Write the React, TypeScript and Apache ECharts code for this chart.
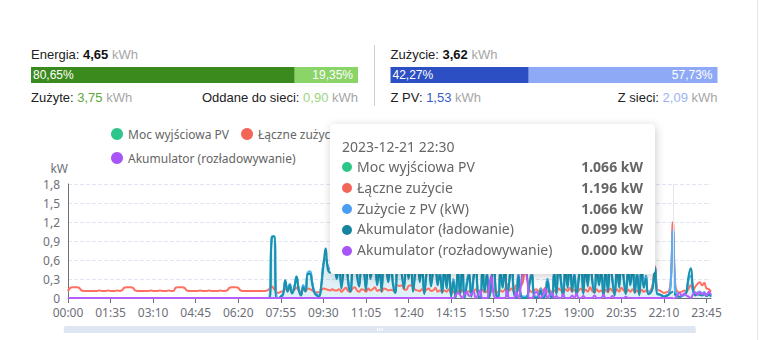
import React, { useEffect, useRef } from 'react';
import * as echarts from 'echarts';

const FONT = "'Noto Sans', sans-serif";
const HEAD_FONT = "'Liberation Sans', Arial, sans-serif";

const tooltipDate = '2023-12-21';
const tooltipIndex = 270;

// 5-minute time categories 00:00 .. 23:55
const times: string[] = [];
for (let m = 0; m < 24 * 60; m += 5) {
  times.push(`${String(Math.floor(m / 60)).padStart(2, '0')}:${String(m % 60).padStart(2, '0')}`);
}

const seriesNames = [
  'Moc wyjściowa PV',
  'Łączne zużycie',
  'Zużycie z PV (kW)',
  'Akumulator (ładowanie)',
  'Akumulator (rozładowywanie)',
];
const seriesColors = ['#2ec58a', '#f2665a', '#4a9ef0', '#17849f', '#a855f7'];

// header summary values
const energyTotal = 4.65;
const energyUsed = 3.75;
const energyExported = 0.9;
const energyShares = [80.65, 19.35];
const usageTotal = 3.62;
const usageFromPv = 1.53;
const usageFromGrid = 2.09;
const usageShares = [42.27, 57.73];

const Z12 = [0, 0, 0, 0, 0, 0, 0, 0, 0, 0, 0, 0];

const pvOutput = [
  ...Z12, ...Z12, ...Z12, ...Z12, ...Z12, ...Z12, ...Z12,
  0, 0, 0, 0, 0, 0, 0.02, 0.97, 0.98, 0.02, 0, 0.03,
  0.08, 0.26, 0.12, 0.22, 0.1, 0.18, 0.34, 0.15, 0.06, 0.2, 0.12, 0.4,
  0.42, 0.25, 0.1, 0.06, 0.04, 0.2, 0.55, 0.62, 0.5, 0.45, 0.7, 0.55,
  0.35, 0.62, 0.2, 0.48, 0.85, 0.3, 0.15, 0.55, 0.9, 0.4, 0.22, 0.7,
  0.5, 0.18, 0.78, 0.35, 0.6, 0.95, 0.25, 0.45, 0.15, 0.7, 0.52, 0.3,
  0.65, 0.28, 0.12, 0.58, 0.82, 0.4, 0.2, 0.72, 0.35, 0.6, 0.15, 0.45,
  0.75, 0.3, 0.55, 0.1, 0.42, 0.68, 0.22, 0.5, 0.85, 0.25, 0.4, 0.12,
  0.48, 0.2, 0.6, 0.05, 0.3, 0.02, 0.45, 0.1, 0.55, 0.03, 0.25, 0.4,
  0.05, 0.35, 0.62, 0.08, 0.02, 0.5, 0.15, 0.4, 0.03, 0.28, 0.7, 0.1,
  0.02, 0.45, 0.2, 0.55, 0.05, 0.3, 0.6, 0.12, 0.02, 0.38, 0.08, 0.02,
  0.02, 0.03, 0.25, 0.4, 0.05, 0.02, 0.03, 0.15, 0.02, 0.05, 0.3, 0.1,
  0.02, 0.42, 0.1, 0.6, 0.3, 0.05, 0.5, 0.2, 0.72, 0.15, 0.4, 0.08,
  0.35, 0.65, 0.1, 0.5, 0.22, 0.8, 0.3, 0.12, 0.58, 0.25, 0.45, 0.05,
  0.48, 0.15, 0.62, 0.3, 0.08, 0.55, 0.2, 0.7, 0.35, 0.1, 0.45, 0.25,
  0.6, 0.12, 0.4, 0.08, 0.52, 0.2, 0.35, 0.1, 0.1, 0.2, 0.48, 0.08,
  0.05, 0.04, 0.03, 0.04, 0.05, 0.22, 1.066, 0.16, 0.03, 0.02, 0.03, 0.05,
  0.1, 0.3, 0.35, 0.12, 0.05, 0.08, 0.1, 0.06, 0.09, 0.05, 0.07, 0.04,
];

const totalUse = [
  0.11, 0.16, 0.17, 0.17, 0.17, 0.16, 0.12, 0.11, 0.11, 0.11, 0.11, 0.11,
  0.11, 0.11, 0.12, 0.11, 0.11, 0.11, 0.12, 0.11, 0.11, 0.11, 0.12, 0.11,
  0.12, 0.16, 0.17, 0.17, 0.17, 0.16, 0.12, 0.11, 0.11, 0.11, 0.11, 0.11,
  0.11, 0.12, 0.11, 0.11, 0.11, 0.12, 0.11, 0.11, 0.11, 0.12, 0.11, 0.11,
  0.16, 0.17, 0.17, 0.17, 0.16, 0.12, 0.11, 0.11, 0.11, 0.11, 0.11, 0.12,
  0.11, 0.11, 0.11, 0.12, 0.11, 0.11, 0.11, 0.11, 0.12, 0.11, 0.11, 0.12,
  0.16, 0.17, 0.17, 0.17, 0.16, 0.12, 0.11, 0.11, 0.11, 0.11, 0.11, 0.11,
  0.11, 0.11, 0.11, 0.11, 0.11, 0.12, 0.15, 0.18, 0.14, 0.1, 0.08, 0.1,
  0.11, 0.14, 0.12, 0.15, 0.1, 0.13, 0.16, 0.12, 0.1, 0.13, 0.11, 0.15,
  0.14, 0.12, 0.1, 0.09, 0.09, 0.12, 0.15, 0.14, 0.13, 0.12, 0.14, 0.12,
  0.12, 0.14, 0.1, 0.13, 0.16, 0.11, 0.1, 0.15, 0.17, 0.12, 0.1, 0.14,
  0.13, 0.1, 0.15, 0.12, 0.14, 0.17, 0.11, 0.13, 0.1, 0.15, 0.14, 0.12,
  0.13, 0.12, 0.18, 0.2, 0.19, 0.2, 0.14, 0.13, 0.19, 0.2, 0.18, 0.13,
  0.12, 0.11, 0.14, 0.1, 0.13, 0.15, 0.11, 0.12, 0.16, 0.1, 0.12, 0.1,
  0.12, 0.1, 0.14, 0.08, 0.1, 0.07, 0.12, 0.08, 0.13, 0.07, 0.09, 0.11,
  0.08, 0.1, 0.14, 0.08, 0.12, 0.13, 0.09, 0.11, 0.18, 0.1, 0.15, 0.08,
  0.1, 0.12, 0.1, 0.14, 0.22, 0.12, 0.15, 0.1, 0.2, 0.12, 0.18, 0.25,
  0.45, 0.3, 0.12, 0.1, 0.12, 0.14, 0.1, 0.15, 0.12, 0.16, 0.1, 0.12,
  0.1, 0.12, 0.09, 0.15, 0.12, 0.1, 0.14, 0.11, 0.16, 0.1, 0.13, 0.09,
  0.12, 0.15, 0.09, 0.13, 0.1, 0.17, 0.11, 0.09, 0.14, 0.1, 0.12, 0.08,
  0.13, 0.09, 0.15, 0.11, 0.08, 0.14, 0.1, 0.16, 0.12, 0.09, 0.13, 0.1,
  0.14, 0.09, 0.12, 0.08, 0.13, 0.1, 0.12, 0.08, 0.12, 0.22, 0.5, 0.14,
  0.12, 0.1, 0.08, 0.09, 0.1, 0.26, 1.196, 0.24, 0.1, 0.09, 0.1, 0.12,
  0.1, 0.15, 0.2, 0.12, 0.18, 0.22, 0.25, 0.2, 0.24, 0.15, 0.14, 0.1,
];

const pvUse = [
  ...Z12, ...Z12, ...Z12, ...Z12, ...Z12, ...Z12, ...Z12,
  0, 0, 0, 0, 0, 0, 0.02, 0.97, 0.98, 0.02, 0, 0.03,
  0.08, 0.26, 0.12, 0.22, 0.1, 0.18, 0.34, 0.15, 0.06, 0.2, 0.12, 0.4,
  0.42, 0.25, 0.1, 0.06, 0.04, 0.2, 0.55, 0.62, 0.5, 0.45, 0.7, 0.55,
  0.35, 0.62, 0.2, 0.48, 0.85, 0.3, 0.15, 0.55, 0.9, 0.4, 0.22, 0.7,
  0.5, 0.18, 0.78, 0.35, 0.6, 0.95, 0.25, 0.45, 0.15, 0.7, 0.52, 0.3,
  0.65, 0.28, 0.12, 0.58, 0.82, 0.4, 0.2, 0.72, 0.35, 0.6, 0.15, 0.45,
  0.75, 0.3, 0.55, 0.1, 0.42, 0.68, 0.22, 0.5, 0.85, 0.25, 0.4, 0.12,
  0.48, 0.2, 0.6, 0.05, 0.3, 0.02, 0.45, 0.1, 0.55, 0.03, 0.25, 0.4,
  0.05, 0.35, 0.62, 0.08, 0.02, 0.5, 0.15, 0.4, 0.03, 0.28, 0.7, 0.1,
  0.02, 0.45, 0.2, 0.55, 0.05, 0.3, 0.6, 0.12, 0.02, 0.38, 0.08, 0.02,
  0.02, 0.03, 0.25, 0.4, 0.05, 0.02, 0.03, 0.15, 0.02, 0.05, 0.3, 0.1,
  0.02, 0.42, 0.1, 0.6, 0.3, 0.05, 0.5, 0.2, 0.72, 0.15, 0.4, 0.08,
  0.35, 0.65, 0.1, 0.5, 0.22, 0.8, 0.3, 0.12, 0.58, 0.25, 0.45, 0.05,
  0.48, 0.15, 0.62, 0.3, 0.08, 0.55, 0.2, 0.7, 0.35, 0.1, 0.45, 0.25,
  0.6, 0.12, 0.4, 0.08, 0.52, 0.2, 0.35, 0.1, 0.1, 0.2, 0.48, 0.08,
  0.05, 0.04, 0.03, 0.04, 0.05, 0.22, 1.066, 0.16, 0.03, 0.02, 0.03, 0.05,
  0.1, 0.3, 0.35, 0.12, 0.05, 0.08, 0.1, 0.06, 0.09, 0.05, 0.07, 0.04,
];

const batteryCharge = [
  ...Z12, ...Z12, ...Z12, ...Z12, ...Z12, ...Z12, ...Z12,
  0, 0, 0, 0, 0, 0, 0, 0.96, 0.97, 0, 0, 0.02,
  0.05, 0.28, 0.1, 0.2, 0.07, 0.15, 0.33, 0.12, 0.04, 0.17, 0.1, 0.38,
  0.38, 0.22, 0.08, 0.04, 0.02, 0.18, 0.5, 0.78, 0.45, 0.4, 0.66, 0.5,
  0.3, 0.58, 0.15, 0.45, 0.82, 0.25, 0.1, 0.5, 0.88, 0.35, 0.18, 0.66,
  0.46, 0.12, 0.74, 0.3, 0.56, 0.92, 0.2, 0.42, 0.1, 0.68, 0.48, 0.25,
  0.6, 0.22, 0.08, 0.55, 0.78, 0.36, 0.15, 0.7, 0.3, 0.56, 0.1, 0.4,
  0.72, 0.25, 0.5, 0.06, 0.38, 0.65, 0.18, 0.46, 0.8, 0.2, 0.36, 0.08,
  0.45, 0.15, 0.56, 0.02, 0.26, 0, 0.42, 0.06, 0.5, 0, 0.2, 0.36,
  0.02, 0.3, 0.58, 0.04, 0, 0.45, 0.1, 0.36, 0, 0.24, 0.66, 0.06,
  0, 0.4, 0.16, 0.5, 0.02, 0.26, 0.56, 0.08, 0, 0.34, 0.05, 0,
  0, 0.02, 0.22, 0.36, 0.03, 0, 0.02, 0.12, 0, 0.03, 0.26, 0.06,
  0, 0.38, 0.06, 0.56, 0.26, 0.02, 0.46, 0.16, 0.68, 0.1, 0.36, 0.04,
  0.3, 0.6, 0.06, 0.46, 0.18, 0.76, 0.26, 0.08, 0.54, 0.2, 0.4, 0.02,
  0.44, 0.1, 0.58, 0.26, 0.04, 0.5, 0.16, 0.66, 0.3, 0.06, 0.4, 0.2,
  0.56, 0.08, 0.36, 0.04, 0.48, 0.16, 0.3, 0.06, 0.08, 0.16, 0.47, 0.06,
  0.06, 0.04, 0.02, 0.03, 0.05, 0.08, 0.099, 0.05, 0.03, 0.02, 0.04, 0.06,
  0.08, 0.35, 0.47, 0.15, 0.04, 0.06, 0.05, 0.04, 0.06, 0.03, 0.05, 0.02,
];

const batteryDischarge = [
  ...Z12, ...Z12, ...Z12, ...Z12, ...Z12, ...Z12, ...Z12,
  ...Z12, ...Z12, ...Z12, ...Z12, ...Z12, ...Z12, ...Z12,
  0, 0, 0, 0, 0, 0.04, 0.08, 0.05, 0, 0.06, 0.1, 0.03,
  0.06, 0.1, 0, 0.05, 0.12, 0, 0, 0, 0.2, 0.35, 0.05, 0,
  0, 0, 0, 0, 0.12, 0, 0, 0, 0.1, 0, 0.15, 0.45,
  0.5, 0.3, 0, 0, 0.05, 0.1, 0.04, 0, 0.06, 0.15, 0, 0.05,
  0.08, 0, 0.03, 0, 0, 0.06, 0, 0, 0, 0.04, 0, 0.07,
  0, 0, 0.03, 0, 0, 0, 0, 0.04, 0, 0, 0, 0.05,
  0, 0, 0, 0.03, 0, 0, 0, 0, 0, 0.02, 0, 0,
  0, 0, 0, 0, 0, 0, 0, 0, 0, 0, 0, 0,
  0, 0, 0, 0, 0, 0, 0, 0, 0.05, 0.08, 0.03, 0.07,
  0.04, 0.02, 0, 0.06, 0.09, 0.05, 0.1, 0.06, 0.08, 0.04, 0.1, 0.05,
];

const seriesData = [pvOutput, totalUse, pvUse, batteryCharge, batteryDischarge];

const fmt2 = (v: number) => v.toFixed(2).replace('.', ',');
const pct = (v: number) => fmt2(v) + '%';

const headRich = {
  l: { fill: '#222', fontSize: 13, fontFamily: HEAD_FONT },
  v: { fill: '#111', fontSize: 13, fontWeight: 'bold', fontFamily: HEAD_FONT },
  u: { fill: '#a6a6a6', fontSize: 13, fontFamily: HEAD_FONT },
  g: { fill: '#5ea63a', fontSize: 13, fontFamily: HEAD_FONT },
  lg: { fill: '#9ed584', fontSize: 13, fontFamily: HEAD_FONT },
  b: { fill: '#3b5ccc', fontSize: 13, fontFamily: HEAD_FONT },
  lb: { fill: '#9cb3f2', fontSize: 13, fontFamily: HEAD_FONT },
};

const headText = (x: number, y: number, text: string, align = 'left') => ({
  type: 'text',
  x,
  y,
  silent: true,
  style: {
    text,
    rich: headRich,
    align,
    verticalAlign: 'middle',
    fontSize: 13,
    fontFamily: HEAD_FONT,
    fill: '#222',
  },
});

const barLabel = (position: string, distance: number) => ({
  show: true,
  position,
  distance,
  color: '#fff',
  fontSize: 12,
  fontFamily: HEAD_FONT,
  formatter: (p: any) => pct(p.value),
});

function buildOption() {
  const lineSeries = seriesNames.map((name, i) => ({
    name,
    type: 'line',
    xAxisIndex: 0,
    yAxisIndex: 0,
    data: seriesData[i],
    smooth: true,
    showSymbol: false,
    symbol: 'none',
    color: seriesColors[i],
    lineStyle: { width: 2, color: seriesColors[i] },
    areaStyle: i === 3 ? { color: seriesColors[i], opacity: 0.1 } : i === 2 ? { color: seriesColors[i], opacity: 0.05 } : undefined,
  }));

  const barSeries = [
    {
      name: 'energia-zuzyte', type: 'bar', xAxisIndex: 1, yAxisIndex: 1, stack: 'e',
      data: [energyShares[0]], barWidth: 16, silent: true,
      itemStyle: { color: '#3b8a1e' }, label: barLabel('insideLeft', 2),
    },
    {
      name: 'energia-oddane', type: 'bar', xAxisIndex: 1, yAxisIndex: 1, stack: 'e',
      data: [energyShares[1]], barWidth: 16, silent: true,
      itemStyle: { color: '#8bd468' }, label: barLabel('insideRight', 5),
    },
    {
      name: 'zuzycie-pv', type: 'bar', xAxisIndex: 2, yAxisIndex: 2, stack: 'u',
      data: [usageShares[0]], barWidth: 16, silent: true,
      itemStyle: { color: '#2c4fc4' }, label: barLabel('insideLeft', 2),
    },
    {
      name: 'zuzycie-siec', type: 'bar', xAxisIndex: 2, yAxisIndex: 2, stack: 'u',
      data: [usageShares[1]], barWidth: 16, silent: true,
      itemStyle: { color: '#8eaaf6' }, label: barLabel('insideRight', 5),
    },
  ];

  return {
    animation: false,
    textStyle: { fontFamily: FONT },
    grid: [
      { left: 68, right: 55, top: 184, bottom: 42 },
      { left: 31, top: 67, width: 327, height: 16 },
      { left: 390.5, top: 67, width: 327, height: 16 },
    ],
    legend: {
      data: seriesNames,
      left: 106,
      top: 123,
      width: 560,
      icon: 'circle',
      itemWidth: 12,
      itemHeight: 12,
      itemGap: 12,
      textStyle: { color: '#666', fontSize: 12, fontFamily: FONT },
    },
    tooltip: {
      trigger: 'axis',
      triggerOn: 'none',
      alwaysShowContent: true,
      transitionDuration: 0,
      position: [330, 124],
      padding: [12, 11, 12, 11],
      backgroundColor: '#fff',
      borderColor: '#fff',
      borderWidth: 1,
      extraCssText: 'box-shadow: 1px 2px 10px rgba(0,0,0,0.2); border-radius: 4px;',
      axisPointer: { type: 'line', lineStyle: { color: '#e3e6ec', width: 1, type: 'solid' } },
      formatter: (params: any[]) => {
        const list = params.filter((p) => p.seriesType === 'line');
        const rows = list
          .map(
            (p) =>
              `<div style="display:flex;justify-content:space-between;align-items:center;height:20.8px;line-height:20.8px;">` +
              `<span style="display:flex;align-items:center;"><span style="display:inline-block;width:10px;height:10px;border-radius:5px;background:${p.color};margin-right:5px;"></span>` +
              `<span style="color:#666;font-size:14px;">${p.seriesName}</span></span>` +
              `<span style="color:#666;font-size:14px;font-weight:700;margin-left:20px;">${Number(p.value).toFixed(3)} kW</span></div>`
          )
          .join('');
        return (
          `<div style="width:301px;font-family:${FONT};">` +
          `<div style="color:#666;font-size:14px;line-height:20px;height:20px;">${tooltipDate} ${list[0] ? list[0].axisValue : ''}</div>` +
          rows +
          `</div>`
        );
      },
    },
    xAxis: [
      {
        type: 'category',
        gridIndex: 0,
        data: times,
        boundaryGap: false,
        axisLine: { lineStyle: { color: '#6e7079' } },
        axisTick: { interval: 18, lineStyle: { color: '#6e7079' } },
        axisLabel: { interval: 18, color: '#6e7079', fontSize: 12, fontFamily: FONT, margin: 8 },
      },
      { type: 'value', gridIndex: 1, min: 0, max: 100, show: false },
      { type: 'value', gridIndex: 2, min: 0, max: 100, show: false },
    ],
    yAxis: [
      {
        type: 'value',
        gridIndex: 0,
        min: 0,
        max: 1.8,
        interval: 0.3,
        name: 'kW',
        nameGap: 10,
        nameTextStyle: { align: 'right', color: '#6e7079', fontSize: 12, fontFamily: FONT },
        axisLine: { show: true, lineStyle: { color: '#6e7079' } },
        axisTick: { show: false },
        axisLabel: {
          color: '#6e7079',
          fontSize: 12,
          fontFamily: FONT,
          margin: 8,
          formatter: (v: number) => (v === 0 ? '0' : v.toFixed(1).replace('.', ',')),
        },
        splitLine: { lineStyle: { type: 'dashed', color: '#e0e6f1' } },
      },
      { type: 'category', gridIndex: 1, data: ['energia'], show: false, axisPointer: { show: false } },
      { type: 'category', gridIndex: 2, data: ['zuzycie'], show: false, axisPointer: { show: false } },
    ],
    dataZoom: [
      {
        type: 'slider',
        xAxisIndex: 0,
        left: 61,
        right: 73,
        top: 326,
        height: 1,
        showDetail: false,
        showDataShadow: false,
        backgroundColor: 'rgba(0,0,0,0)',
        borderColor: 'rgba(0,0,0,0)',
        fillerColor: 'rgba(0,0,0,0)',
        handleSize: 0,
        handleStyle: { opacity: 0 },
        moveHandleSize: 7,
        moveHandleStyle: { color: '#D2DBEE', opacity: 0.7 },
      },
    ],
    graphic: [
      headText(31, 54, `{l|Energia:} {v|${fmt2(energyTotal)}} {u|kWh}`),
      headText(31, 97, `{l|Zużyte:} {g|${fmt2(energyUsed)}} {u|kWh}`),
      headText(358, 97, `{l|Oddane do sieci:} {lg|${fmt2(energyExported)}} {u|kWh}`, 'right'),
      headText(390.5, 54, `{l|Zużycie:} {v|${fmt2(usageTotal)}} {u|kWh}`),
      headText(390.5, 97, `{l|Z PV:} {b|${fmt2(usageFromPv)}} {u|kWh}`),
      headText(717.5, 97, `{l|Z sieci:} {lb|${fmt2(usageFromGrid)}} {u|kWh}`, 'right'),
      {
        type: 'line',
        silent: true,
        shape: { x1: 374.5, y1: 45, x2: 374.5, y2: 106 },
        style: { stroke: '#cfcfcf', lineWidth: 1 },
      },
      {
        type: 'line',
        silent: true,
        shape: { x1: 757.5, y1: 0, x2: 757.5, y2: 340 },
        style: { stroke: '#e4e4e4', lineWidth: 1 },
      },
    ],
    series: [...lineSeries, ...barSeries],
  };
}

export default function App() {
  const ref = useRef<HTMLDivElement>(null);
  useEffect(() => {
    if (!ref.current) return;
    const chart = echarts.init(ref.current, null, { renderer: 'svg' });
    chart.setOption(buildOption() as any);
    chart.dispatchAction({ type: 'showTip', seriesIndex: 0, dataIndex: tooltipIndex });
    return () => chart.dispose();
  }, []);
  return (
    <div
      ref={ref}
      style={{ position: 'absolute', left: 0, top: 0, width: 766, height: 340, background: '#fff' }}
    />
  );
}
